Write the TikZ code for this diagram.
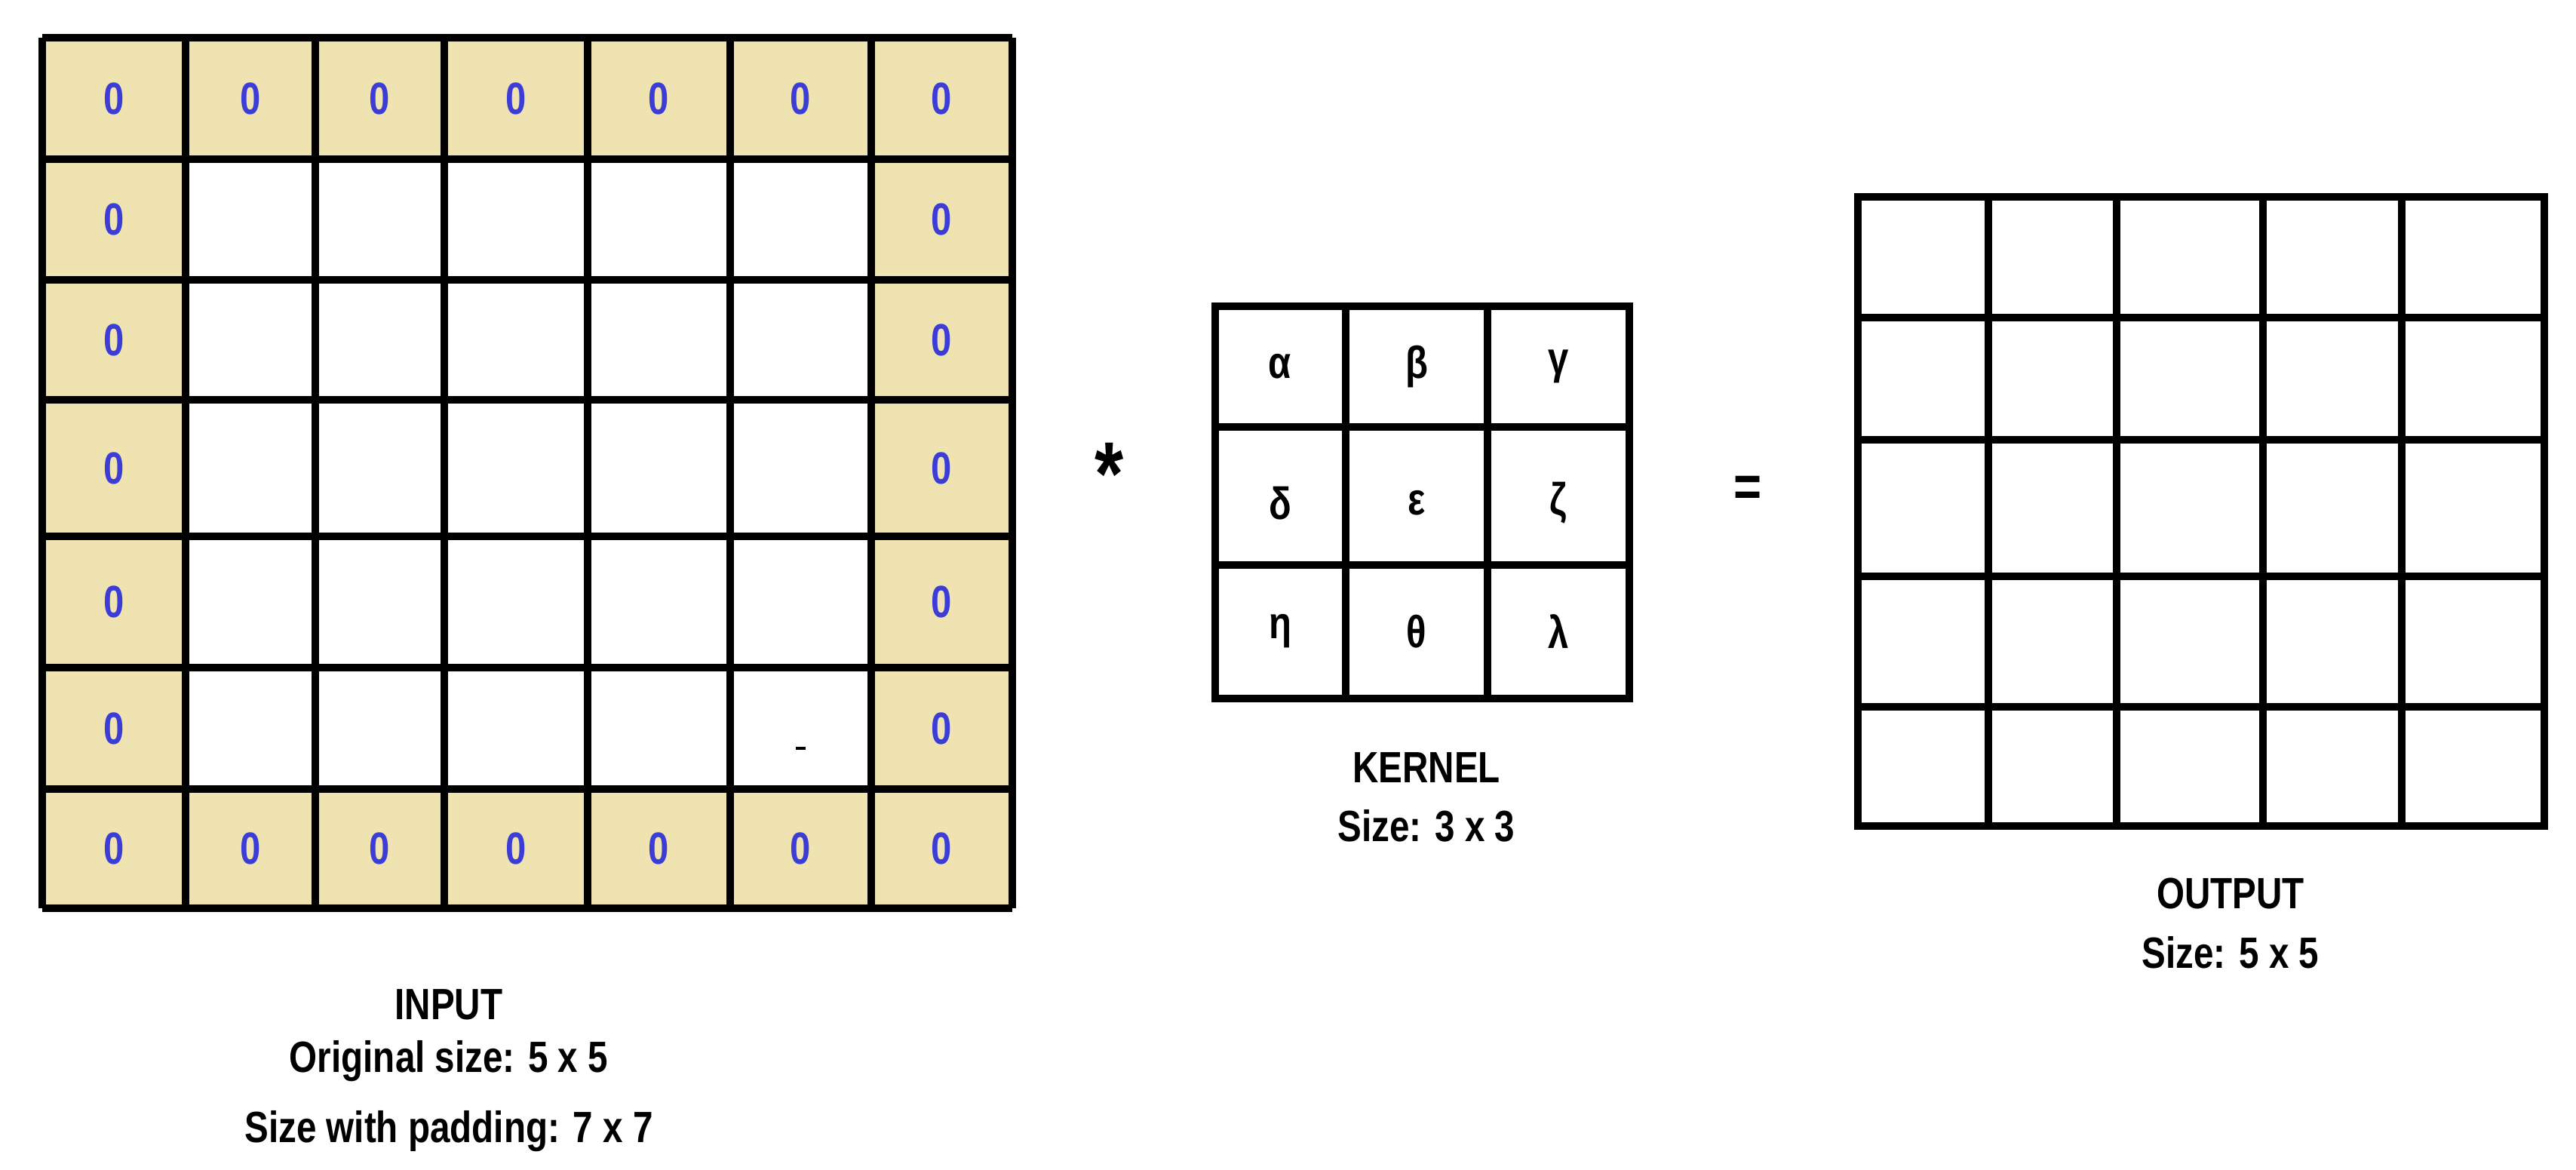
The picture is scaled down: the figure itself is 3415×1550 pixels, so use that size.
\documentclass[tikz,border=0pt]{standalone}
\usepackage{fontspec}
\setmainfont{Liberation Sans}[FakeStretch=0.82]
\definecolor{pad}{RGB}{239,227,178}
\definecolor{zero}{RGB}{60,60,215}
\begin{document}
\begin{tikzpicture}[x=0.01cm,y=-0.01cm,
  grid/.style={line width=2.6pt},
  zero/.style={text=zero,font=\fontsize{17}{20}\selectfont\bfseries},
  greek/.style={font=\fontsize{17}{20}\selectfont\bfseries},
  lab/.style={font=\fontsize{16.5}{19}\selectfont\bfseries,align=center}]
\useasboundingbox (0,0) rectangle (3415,1550);
% input grid
\def\IX{{56,246,418,589,779,968,1155,1342}}
\def\IY{{50,211,371,530,711,885,1046,1204}}
\foreach \i in {0,...,6}{\foreach \j in {0,...,6}{
  \pgfmathsetmacro\xa{\IX[\i]}\pgfmathsetmacro\xb{\IX[\i+1]}
  \pgfmathsetmacro\ya{\IY[\j]}\pgfmathsetmacro\yb{\IY[\j+1]}
  \pgfmathtruncatemacro\edge{(\i==0)||(\i==6)||(\j==0)||(\j==6)}
  \ifnum\edge=1
    \fill[pad] (\xa,\ya) rectangle (\xb,\yb);
    \node[zero] (z\i\j) at ({(\xa+\xb)/2},{(\ya+\yb)/2}) {0};
  \fi
}}
\foreach \i in {0,...,7}{\pgfmathsetmacro\x{\IX[\i]}\draw[grid] (\x,50) -- (\x,1204);}
\foreach \j in {0,...,7}{\pgfmathsetmacro\y{\IY[\j]}\draw[grid] (56,\y) -- (1342,\y);}
\draw[line width=1pt] (1055,992) -- (1068,992);
% kernel
\draw[grid] (1611,406) rectangle (2160,926);
\foreach \x in {1784,1972}{\draw[grid] (\x,406) -- (\x,926);}
\foreach \y in {566,749}{\draw[grid] (1611,\y) -- (2160,\y);}
\node[greek] (ka) at (1697,486) {α};
\node[greek] (kb) at (1878,486) {β};
\node[greek] (kc) at (2066,486) {γ};
\node[greek] (kd) at (1697,667) {δ};
\node[greek] (ke) at (1878,667) {ε};
\node[greek] (kf) at (2066,667) {ζ};
\node[greek] (kg) at (1697,837) {η};
\node[greek] (kh) at (1878,837) {θ};
\node[greek] (ki) at (2066,837) {λ};
% output
\draw[grid] (2463,261) rectangle (3373,1095);
\foreach \x in {2636,2806,3000,3184}{\draw[grid] (\x,261) -- (\x,1095);}
\foreach \y in {421,583,764,937}{\draw[grid] (2463,\y) -- (3373,\y);}
% operators
\node[font=\fontsize{34}{34}\selectfont\bfseries] (star) at (1471,628) {*};
\node[font=\fontsize{22}{22}\selectfont\bfseries] (eq) at (2317,651) {=};
% labels
\node[lab] (inlab) at (595,1332) {INPUT};
\node[lab] (inlab2) at (595,1407) {Original size: 5 x 5};
\node[lab] (inlab3) at (595,1500) {Size with padding: 7 x 7};
\node[lab] (klab) at (1891,1018) {KERNEL};
\node[lab] (klab2) at (1891,1095) {Size: 3 x 3};
\node[lab] (olab) at (2957,1184) {OUTPUT};
\node[lab] (olab2) at (2957,1263) {Size: 5 x 5};
\end{tikzpicture}
\end{document}
